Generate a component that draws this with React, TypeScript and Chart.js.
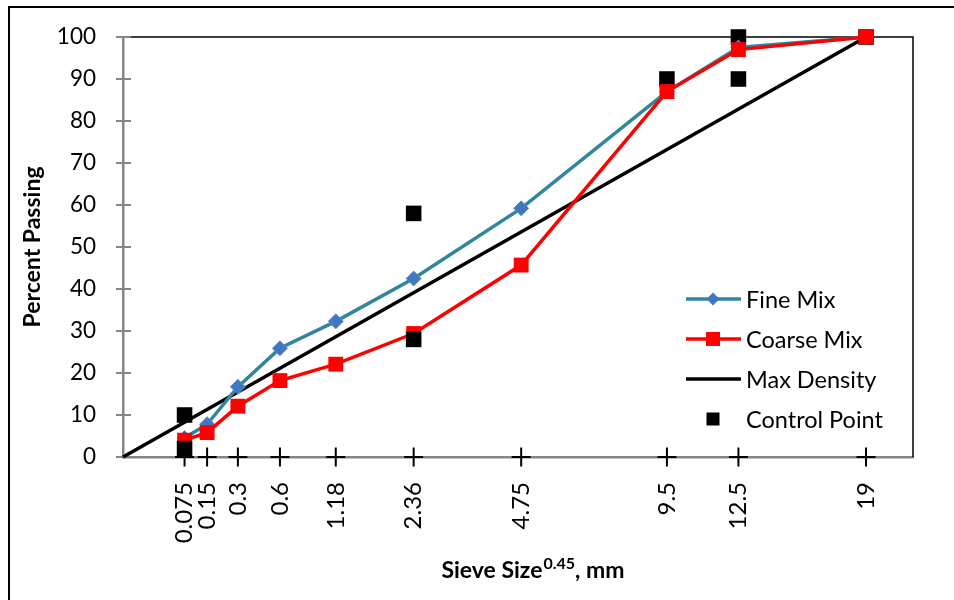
import React, { useEffect, useRef } from 'react';
import { Chart, registerables } from 'chart.js';

Chart.register(...registerables);

// ---- data ----
const sieveLabels = ['0.075', '0.15', '0.3', '0.6', '1.18', '2.36', '4.75', '9.5', '12.5', '19'];
const sieveSizes = [0.075, 0.15, 0.3, 0.6, 1.18, 2.36, 4.75, 9.5, 12.5, 19];
const fineMix = [4.5, 7.8, 16.7, 25.9, 32.3, 42.5, 59.2, 87, 97.5, 100];
const coarseMix = [4, 5.8, 12.1, 18.2, 22.1, 29.4, 45.7, 87, 97, 100];
const controlUpperSizes = [0.075, 2.36, 9.5, 12.5, 19];
const controlUpperValues = [10, 58, 90, 100, 100];
const controlLowerSizes = [0.075, 2.36, 12.5];
const controlLowerValues = [2, 28, 90];
const maxDensitySizes = [0, 19];
const maxDensityValues = [0, 100];
const yTickValues = [0, 10, 20, 30, 40, 50, 60, 70, 80, 90, 100];
const EXPONENT = 0.45;

const FONT = 'Lato, "Open Sans", sans-serif';
const FINE_LINE = '#31859C';
const FINE_MARK = '#4077BE';
const RED = '#FF0000';
const AXIS_GRAY = '#868686';

const px = (s: number) => Math.pow(s, EXPONENT);
const pts = (sizes: number[], vals: number[]) => sizes.map((s, i) => ({ x: px(s), y: vals[i] }));

const decorPlugin = {
  id: 'decor',
  beforeDatasetsDraw(chart: any) {
    const { ctx, chartArea: a } = chart;
    const ys = chart.scales.y;
    ctx.save();
    ctx.strokeStyle = '#000';
    ctx.lineWidth = 1.5;
    ctx.beginPath();
    ctx.moveTo(a.left + 8, a.top);
    ctx.lineTo(a.right, a.top);
    ctx.lineTo(a.right, a.bottom);
    ctx.stroke();
    ctx.strokeStyle = AXIS_GRAY;
    ctx.lineWidth = 2;
    yTickValues.forEach((v) => {
      const py = ys.getPixelForValue(v);
      ctx.beginPath();
      ctx.moveTo(a.left, py);
      ctx.lineTo(a.left + 8, py);
      ctx.stroke();
    });
    ctx.restore();
  },
  afterDraw(chart: any) {
    const { ctx, chartArea: a } = chart;
    ctx.save();
    // outer frame (left & top visible)
    ctx.strokeStyle = '#000';
    ctx.lineWidth = 2;
    ctx.beginPath();
    ctx.moveTo(9, 700);
    ctx.lineTo(9, 7);
    ctx.lineTo(1000, 7);
    ctx.stroke();

    // y title
    ctx.fillStyle = '#000';
    ctx.font = `bold 23px ${FONT}`;
    ctx.textAlign = 'center';
    ctx.textBaseline = 'middle';
    ctx.translate(33, (a.top + a.bottom) / 2);
    ctx.rotate(-Math.PI / 2);
    ctx.fillText('Percent Passing', 0, 0);
    ctx.setTransform(1, 0, 0, 1, 0, 0);

    // x title with superscript
    const p1 = 'Sieve Size';
    const sup = '0.45';
    const p2 = ', mm';
    ctx.textBaseline = 'alphabetic';
    ctx.textAlign = 'left';
    ctx.font = `bold 23px ${FONT}`;
    const w1 = ctx.measureText(p1).width;
    const w3 = ctx.measureText(p2).width;
    ctx.font = `bold 16px ${FONT}`;
    const w2 = ctx.measureText(sup).width;
    const total = w1 + w2 + w3 + 1;
    let x0 = 533 - total / 2;
    const base = 578;
    ctx.font = `bold 23px ${FONT}`;
    ctx.fillText(p1, x0, base);
    x0 += w1 + 1;
    ctx.font = `bold 16px ${FONT}`;
    ctx.fillText(sup, x0, base - 9);
    x0 += w2;
    ctx.font = `bold 23px ${FONT}`;
    ctx.fillText(p2, x0, base);

    // legend
    const lx0 = 686;
    const lx1 = 741;
    const lmid = 713;
    const tx = 746;
    const rows = [299, 339, 379, 419];
    ctx.lineWidth = 3.5;
    // Fine mix
    ctx.strokeStyle = FINE_LINE;
    ctx.beginPath();
    ctx.moveTo(lx0, rows[0]);
    ctx.lineTo(lx1, rows[0]);
    ctx.stroke();
    ctx.fillStyle = FINE_MARK;
    ctx.beginPath();
    ctx.moveTo(lmid, rows[0] - 6.5);
    ctx.lineTo(lmid + 6.5, rows[0]);
    ctx.lineTo(lmid, rows[0] + 6.5);
    ctx.lineTo(lmid - 6.5, rows[0]);
    ctx.closePath();
    ctx.fill();
    // Coarse mix
    ctx.strokeStyle = RED;
    ctx.beginPath();
    ctx.moveTo(lx0, rows[1]);
    ctx.lineTo(lx1, rows[1]);
    ctx.stroke();
    ctx.fillStyle = RED;
    ctx.fillRect(lmid - 7, rows[1] - 7, 14, 14);
    // Max density
    ctx.strokeStyle = '#000';
    ctx.beginPath();
    ctx.moveTo(lx0, rows[2]);
    ctx.lineTo(lx1, rows[2]);
    ctx.stroke();
    // Control point
    ctx.fillStyle = '#000';
    ctx.fillRect(lmid - 6.5, rows[3] - 6.5, 13, 13);

    ctx.font = `23.5px ${FONT}`;
    ctx.textBaseline = 'middle';
    ctx.textAlign = 'left';
    ctx.fillStyle = '#000';
    ['Fine Mix', 'Coarse Mix', 'Max Density', 'Control Point'].forEach((t, i) => {
      ctx.fillText(t, tx, rows[i] + 1);
    });
    ctx.restore();
  },
};

export default function App() {
  const ref = useRef<HTMLCanvasElement | null>(null);

  useEffect(() => {
    document.body.style.margin = '0';
    const canvas = ref.current;
    if (!canvas) return;
    const chart = new Chart(canvas, {
      type: 'scatter',
      data: {
        datasets: [
          {
            label: 'Control Point (lower)',
            data: pts(controlLowerSizes, controlLowerValues),
            showLine: false,
            pointStyle: 'rect',
            pointRadius: 11,
            backgroundColor: '#000',
            borderColor: '#000',
            borderWidth: 0,
            clip: false,
          },
          {
            label: 'Coarse Mix',
            data: pts(sieveSizes, coarseMix),
            showLine: true,
            borderColor: RED,
            borderWidth: 3.5,
            pointStyle: 'rect',
            pointRadius: 10.5,
            backgroundColor: RED,
            pointBorderWidth: 0,
            clip: false,
          },
          {
            label: 'Fine Mix',
            data: pts(sieveSizes, fineMix),
            showLine: true,
            borderColor: FINE_LINE,
            borderWidth: 3.5,
            pointStyle: 'rectRot',
            pointRadius: 7.5,
            backgroundColor: FINE_MARK,
            pointBorderColor: '#5A8BCB',
            pointBorderWidth: 1,
            clip: false,
          },
          {
            label: 'Max Density',
            data: pts(maxDensitySizes, maxDensityValues),
            showLine: true,
            borderColor: '#000',
            borderWidth: 3.5,
            pointRadius: 0,
            clip: false,
          },
          {
            label: 'Control Point',
            data: pts(controlUpperSizes, controlUpperValues),
            showLine: false,
            pointStyle: 'rect',
            pointRadius: 11,
            backgroundColor: '#000',
            borderColor: '#000',
            borderWidth: 0,
            clip: false,
          },
          {
            label: 'ticks',
            data: sieveSizes.map((s) => ({ x: px(s), y: 0 })),
            showLine: false,
            pointStyle: 'cross',
            pointRadius: 9.5,
            borderColor: '#000',
            borderWidth: 2,
            clip: false,
          },
        ],
      },
      options: {
        responsive: false,
        animation: false,
        devicePixelRatio: 1,
        layout: { padding: { left: 0, top: 37, right: 41, bottom: 0 } },
        plugins: {
          legend: { display: false },
          tooltip: { enabled: false },
          title: { display: false },
        },
        scales: {
          x: {
            type: 'linear',
            min: 0,
            max: 4,
            afterFit: (s: any) => {
              s.height = 143;
            },
            afterBuildTicks: (s: any) => {
              s.ticks = sieveSizes.map((v) => ({ value: px(v) }));
            },
            grid: { drawOnChartArea: false, drawTicks: false },
            border: { color: AXIS_GRAY, width: 2.5 },
            ticks: {
              autoSkip: false,
              minRotation: 90,
              maxRotation: 90,
              padding: 25,
              color: '#000',
              font: { family: FONT, size: 24 },
              callback: (_v: any, i: number) => sieveLabels[i],
            },
          },
          y: {
            type: 'linear',
            min: 0,
            max: 100,
            afterFit: (s: any) => {
              s.width = 123;
            },
            afterBuildTicks: (s: any) => {
              s.ticks = yTickValues.map((v) => ({ value: v }));
            },
            grid: { drawOnChartArea: false, drawTicks: true, tickLength: 7, color: AXIS_GRAY, lineWidth: 2 },
            border: { color: AXIS_GRAY, width: 2.5 },
            ticks: {
              padding: 20,
              color: '#000',
              font: { family: FONT, size: 22.5 },
            },
          },
        },
      },
      plugins: [decorPlugin],
    });
    return () => chart.destroy();
  }, []);

  return (
    <div style={{ width: 954, height: 600, background: '#fff' }}>
      <canvas ref={ref} width={954} height={600} style={{ display: 'block' }} />
    </div>
  );
}
